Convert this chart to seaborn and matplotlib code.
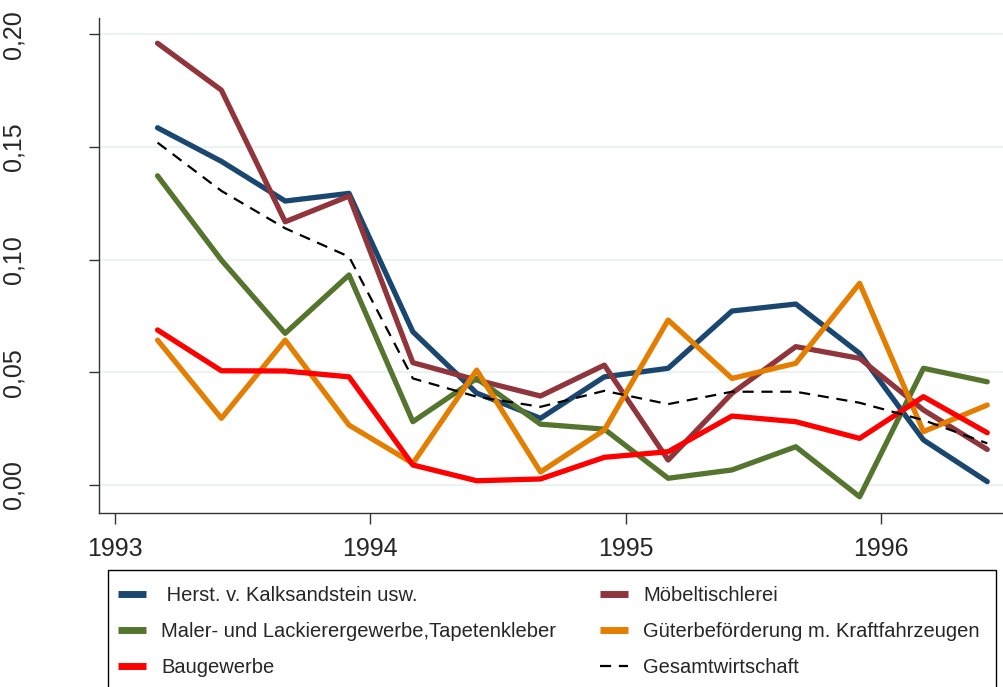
import pandas as pd
import matplotlib.pyplot as plt
import seaborn as sns
from matplotlib.patches import Rectangle

#%% Data (quarterly values)

months = ["1993-03", "1993-06", "1993-09", "1993-12",
          "1994-03", "1994-06", "1994-09", "1994-12",
          "1995-03", "1995-06", "1995-09", "1995-12",
          "1996-03", "1996-06"]

herst = [0.1585, 0.1436, 0.1260, 0.1294, 0.0680, 0.0408, 0.0296,
         0.0480, 0.0518, 0.0772, 0.0803, 0.0584, 0.0200, 0.0015]
moebel = [0.1960, 0.1752, 0.1168, 0.1282, 0.0543, 0.0466, 0.0395,
          0.0532, 0.0111, 0.0407, 0.0614, 0.0562, 0.0333, 0.0158]
maler = [0.1372, 0.0998, 0.0673, 0.0932, 0.0281, 0.0473, 0.0270,
         0.0248, 0.0030, 0.0067, 0.0170, -0.0052, 0.0518, 0.0458]
gueter = [0.0643, 0.0296, 0.0643, 0.0266, 0.0096, 0.0510, 0.0058,
          0.0244, 0.0732, 0.0473, 0.0540, 0.0895, 0.0237, 0.0355]
bau = [0.0688, 0.0507, 0.0506, 0.0480, 0.0089, 0.0019, 0.0027,
       0.0123, 0.0148, 0.0306, 0.0281, 0.0207, 0.0392, 0.0232]
gesamt = [0.1519, 0.1305, 0.1139, 0.1013, 0.0473, 0.0392, 0.0347,
          0.0418, 0.0359, 0.0414, 0.0414, 0.0365, 0.0288, 0.0185]

labels = [" Herst. v. Kalksandstein usw.", "Möbeltischlerei",
          "Maler- und Lackierergewerbe,Tapetenkleber",
          "Güterbeförderung m. Kraftfahrzeugen", "Baugewerbe",
          "Gesamtwirtschaft"]
colors = ["#1a476f", "#90353b", "#55752f", "#e37e00", "#ff0000", "black"]

y_ticks = [0.00, 0.05, 0.10, 0.15, 0.20]
y_ticklabels = ["0,00", "0,05", "0,10", "0,15", "0,20"]
x_ticks = [1993, 1994, 1995, 1996]

#%% Theme

sns.set_theme(style="white")
plt.rcParams['font.family'] = ['Liberation Sans', 'DejaVu Sans']

t = pd.to_datetime(months)
x = t.year + (t.month - 1) / 12

#%% Plot

W, H = 1004, 687
fig = plt.figure(figsize=(W / 100, H / 100), dpi=100)
ax = fig.add_axes([99 / W, 1 - 513 / H, 1 - 99 / W, (513 - 18) / H])

series = [herst, moebel, maler, gueter, bau, gesamt]
for vals, lab, col in zip(series, labels, colors):
    if lab == "Gesamtwirtschaft":
        sns.lineplot(x=x, y=vals, color=col, lw=1.6, ax=ax, label=lab,
                     linestyle=(0, (5, 3.5)))
    else:
        sns.lineplot(x=x, y=vals, color=col, lw=3.8, ax=ax, label=lab)

ax.set_xlim(1993 + (99 - 115) / 255.3, 1993 + (W - 115) / 255.3)
ax.set_ylim(-0.0124, 0.2072)

ax.set_yticks(y_ticks)
ax.set_yticklabels(y_ticklabels, rotation=90, va="center")
ax.set_xticks(x_ticks)
ax.set_xticklabels([str(v) for v in x_ticks])

ax.tick_params(axis="y", left=True, length=7, width=1, pad=46,
               labelsize=18, color="#333333")
ax.tick_params(axis="x", bottom=True, length=8, width=1, pad=9,
               labelsize=18, color="#333333")
ax.set_xlabel("")
ax.set_ylabel("")

ax.yaxis.grid(True, color="#eaf2f3", lw=1.4)
ax.xaxis.grid(False)
ax.set_axisbelow(True)
sns.despine(ax=ax)
for s in ["left", "bottom"]:
    ax.spines[s].set_color("#333333")
    ax.spines[s].set_linewidth(1.0)

#%% Legend (frame drawn separately, bottom runs off the figure)

ax.get_legend().remove()
handles = ax.get_lines()
order = [0, 2, 4, 1, 3, 5]
leg = fig.legend([handles[i] for i in order], [labels[i] for i in order],
                 loc="upper left",
                 bbox_to_anchor=(118 / W, 0.0, (980 - 118) / W, 1 - 586 / H),
                 mode="expand", ncol=2, fontsize=14.5, frameon=False,
                 handlelength=1.4, handletextpad=0.75,
                 labelspacing=0.85, borderpad=0, borderaxespad=0)
for ln in leg.get_lines():
    ln.set_solid_capstyle("butt")
    if ln.get_linestyle() == "-":
        ln.set_linewidth(5)

fig.patches.append(Rectangle((108 / W, -0.05), (996 - 108) / W, 0.05 + 1 - 570 / H,
                             transform=fig.transFigure, fill=False,
                             edgecolor="black", lw=1.0))

fig.savefig("out.png", dpi=100)
